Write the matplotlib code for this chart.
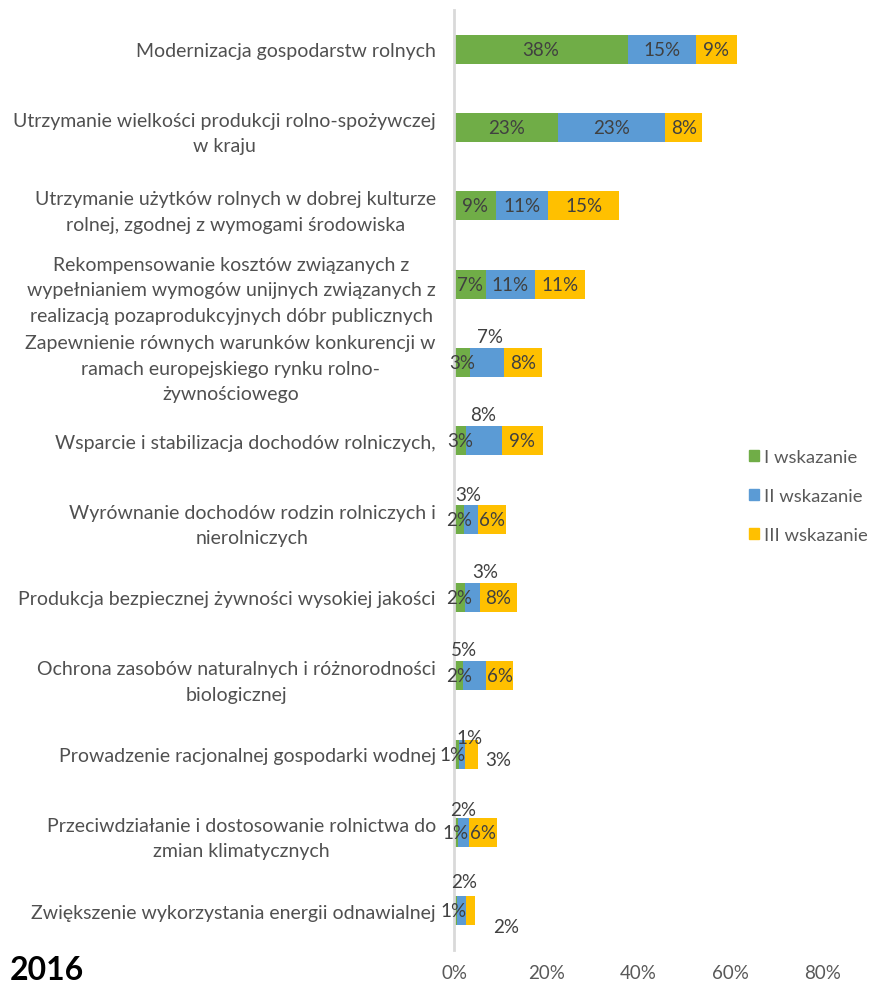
import matplotlib
matplotlib.use("Agg")
import matplotlib.pyplot as plt
from matplotlib.patches import Patch
from matplotlib.ticker import FuncFormatter

plt.rcParams['font.family'] = ['Lato', 'DejaVu Sans']

categories = [
    "Modernizacja gospodarstw rolnych",
    "Utrzymanie wielkości produkcji rolno-spożywczej\nw kraju",
    "Utrzymanie użytków rolnych w dobrej kulturze\nrolnej, zgodnej z wymogami środowiska",
    "Rekompensowanie kosztów związanych z\nwypełnianiem wymogów unijnych związanych z\nrealizacją pozaprodukcyjnych dóbr publicznych",
    "Zapewnienie równych warunków konkurencji w\nramach europejskiego rynku rolno-\nżywnościowego",
    "Wsparcie i stabilizacja dochodów rolniczych,",
    "Wyrównanie dochodów rodzin rolniczych i\nnierolniczych",
    "Produkcja bezpiecznej żywności wysokiej jakości",
    "Ochrona zasobów naturalnych i różnorodności\nbiologicznej",
    "Prowadzenie racjonalnej gospodarki wodnej",
    "Przeciwdziałanie i dostosowanie rolnictwa do\nzmian klimatycznych",
    "Zwiększenie wykorzystania energii odnawialnej",
]

series_names = ["I wskazanie", "II wskazanie", "III wskazanie"]
first = [37.7, 22.6, 9.1, 6.9, 3.4, 2.5, 2.2, 2.4, 2.0, 1.1, 0.8, 0.6]
second = [14.7, 23.2, 11.3, 10.6, 7.4, 7.8, 3.0, 3.2, 5.0, 1.2, 2.4, 2.1]
third = [8.9, 8.0, 15.4, 10.8, 8.2, 9.0, 6.1, 8.0, 5.8, 2.8, 6.2, 1.9]
colors = ["#70AD47", "#5B9BD5", "#FFC000"]

# label nudges in pixels (row, series) -> (dx, dy)
label_shift = {
    (4, 1): (3, 26), (5, 1): (0, 26), (6, 1): (-3, 25), (7, 1): (13, 26),
    (8, 1): (-11, 26), (9, 1): (8, 17), (9, 2): (27, -5), (9, 0): (-4, 0),
    (10, 1): (0, 23), (11, 1): (2, 29), (11, 2): (35, -16), (11, 0): (-2, 0),
}

W, H = 877, 987
fig = plt.figure(figsize=(W / 100, H / 100), dpi=100)
ax = fig.add_axes([454 / W, 1 - 951 / H, (823 - 454) / W, (951 - 11) / H])

ypos = list(range(len(categories)))
left = [0.0] * len(categories)
for s, vals in enumerate([first, second, third]):
    bars = ax.barh(ypos, [v / 100 for v in vals], left=left, height=0.37,
                   color=colors[s], label=series_names[s])
    for i, v in enumerate(vals):
        dx, dy = label_shift.get((i, s), (0, 0))
        ax.annotate(f"{int(v + 0.5)}%", (left[i] + v / 200, i),
                    xytext=(dx * 0.72, dy * 0.72), textcoords="offset points",
                    ha="center", va="center", fontsize=13.5, color="#404040")
    left = [l + v / 100 for l, v in zip(left, vals)]

ax.set_xlim(0, 0.8)
ax.set_ylim(len(categories) - 0.5, -0.5)
ax.set_xticks([0, 0.2, 0.4, 0.6, 0.8])
ax.xaxis.set_major_formatter(FuncFormatter(lambda x, p: f"{x * 100:.0f}%"))
ax.set_yticks(ypos)
ax.set_yticklabels(categories, multialignment="center", linespacing=1.6)
ax.tick_params(axis="x", length=0, pad=10, labelsize=13.5, labelcolor="#595959")
ax.tick_params(axis="y", length=0, pad=13, labelsize=14, labelcolor="#505050")
for side in ["top", "right", "bottom"]:
    ax.spines[side].set_visible(False)
ax.spines["left"].set_color("#d9d9d9")
ax.spines["left"].set_linewidth(2)

handles = [Patch(color=c) for c in colors]
fig.legend(handles, series_names, loc="center left",
           bbox_to_anchor=(749 / W, 1 - 497 / H), frameon=False,
           borderpad=0, borderaxespad=0,
           fontsize=13.3, labelcolor="#595959", handlelength=0.55,
           handleheight=0.55, handletextpad=0.25, labelspacing=1.25)

fig.text(10 / W, 1 - 971 / H, "2016", fontsize=23, fontweight="bold",
         va="center", ha="left", color="black")

fig.savefig("out.png", dpi=100)
